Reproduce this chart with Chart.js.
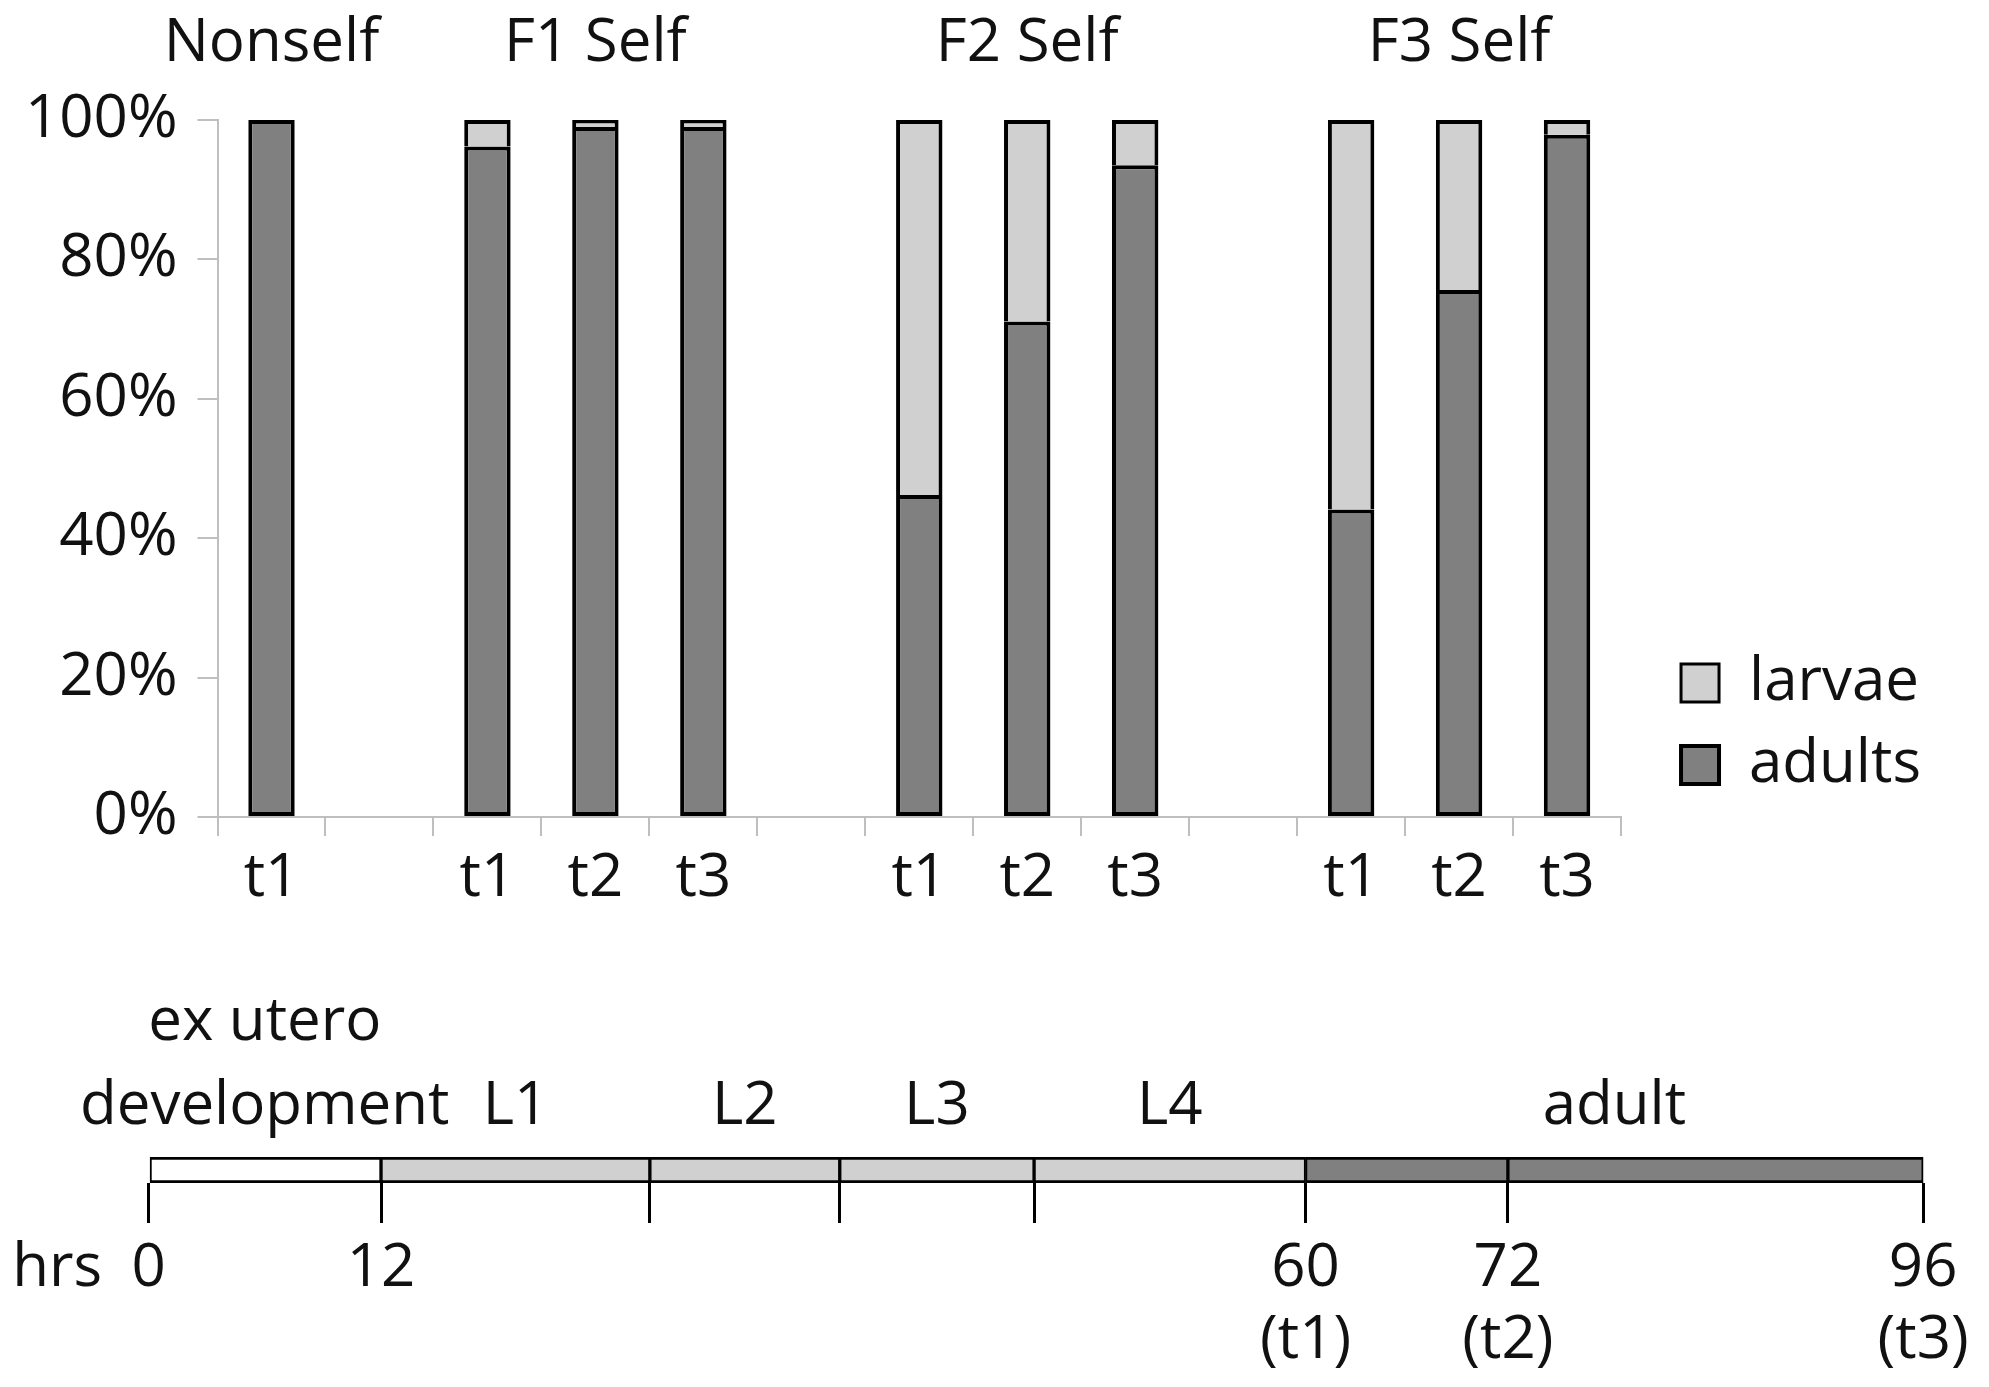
<!DOCTYPE html>
<html>
<head>
<meta charset="utf-8">
<script src="https://cdn.jsdelivr.net/npm/chart.js@4"></script>
<style>
html,body{margin:0;padding:0;background:#fff;width:1989px;height:1387px;overflow:hidden;}
#top{position:absolute;left:0;top:0;width:1989px;height:960px;}
#bottom{position:absolute;left:0;top:960px;width:1989px;height:427px;}
</style>
</head>
<body>
<div id="top"><canvas id="c1"></canvas></div>
<div id="bottom"><canvas id="c2"></canvas></div>
<script>
// ---- Stacked bar chart data ----
const categories  = ['t1','','t1','t2','t3','','t1','t2','t3','','t1','t2','t3'];
const groupTitles = ['Nonself','','','F1 Self','','','','F2 Self','','','','F3 Self',''];
const adults = [100, null, 96.2, 99.0, 99.0, null, 46.2, 71.1, 93.5, null, 44.1, 75.6, 97.9];
const larvae = [0,   null, 3.8,  1.0,  1.0,  null, 53.8, 28.9, 6.5,  null, 55.9, 24.4, 2.1];

// ---- Developmental timeline data (schematic lengths) ----
const stageNames   = ['ex utero development','L1','L2','L3','L4','adult (to t2)','adult (to t3)'];
const stageLengths = [13.1, 15.15, 10.7, 10.95, 15.3, 11.4, 23.4];
const stageLabels  = [['ex utero','development'], 'L1', 'L2', 'L3', 'L4', 'adult'];
const stageLabelSpans = [[0],[1],[2],[3],[4],[5,6]];
const hourLabels      = ['0','12','','','','60','72','96'];
const timepointLabels = ['','','','','','(t1)','(t2)','(t3)'];
const hrsLabel = 'hrs';

Chart.defaults.font.family = "'Open Sans', 'DejaVu Sans', sans-serif";
Chart.defaults.font.size = 60;
Chart.defaults.color = '#111';

// boundaries from cumulative stage lengths
const boundaries = [0];
stageLengths.forEach(v => boundaries.push(+(boundaries[boundaries.length-1] + v).toFixed(3)));
const stageCenters = stageLabelSpans.map(span => (boundaries[span[0]] + boundaries[span[span.length-1]+1]) / 2);

const legendShift = {
  id: 'legendShift',
  afterLayout(chart) {
    const l = chart.legend;
    if (!l) return;
    l.left += 38; l.right += 38;
  }
};

new Chart(document.getElementById('c1'), {
  type: 'bar',
  data: {
    labels: categories,
    datasets: [
      { label: 'adults', data: adults, xAxisID: 'x', yAxisID: 'y',
        backgroundColor: '#808080', borderColor: '#000', borderWidth: 4, borderSkipped: false,
        barPercentage: 0.43, categoryPercentage: 1 },
      { label: 'larvae', data: larvae, xAxisID: 'x', yAxisID: 'y',
        backgroundColor: '#d0d0d0', borderColor: '#000', borderWidth: {top:4, left:4, right:4, bottom:0}, borderSkipped: false,
        barPercentage: 0.43, categoryPercentage: 1 }
    ]
  },
  options: {
    responsive: true, maintainAspectRatio: false, animation: false,
    layout: { padding: { top: 0, left: 5, right: 96, bottom: 38 } },
    plugins: {
      legend: { position: 'right', align: 'end', fullSize: false, reverse: true,
        labels: { boxWidth: 38, boxHeight: 38, padding: 22, font: { size: 60 }, color: '#111' } },
      tooltip: { enabled: false }
    },
    scales: {
      x: { stacked: true, offset: true,
        grid: { offset: true, drawOnChartArea: false, tickLength: 19, color: '#bfbfbf', lineWidth: 2 },
        border: { color: '#bfbfbf', width: 2 },
        ticks: { autoSkip: false, maxRotation: 0, padding: 7, font: { size: 60 }, color: '#111' } },
      xTop: { type: 'category', labels: groupTitles, position: 'top', offset: true,
        grid: { display: false, drawTicks: true, tickLength: 32 }, border: { display: false },
        ticks: { autoSkip: false, maxRotation: 0, padding: 0, font: { size: 60, lineHeight: 1.4667 }, color: '#111' } },
      y: { stacked: true, min: 0, max: 100,
        ticks: { stepSize: 10, callback: v => (v % 20 === 0 ? v + '%' : ''), padding: 20, font: { size: 60 }, color: '#111' },
        grid: { drawOnChartArea: false, tickLength: 20, color: '#bfbfbf', lineWidth: 2 },
        border: { color: '#bfbfbf', width: 2 } }
    }
  },
  plugins: [legendShift]
});

const stageFill = ['#ffffff','#d0d0d0','#d0d0d0','#d0d0d0','#d0d0d0','#808080','#808080'];

new Chart(document.getElementById('c2'), {
  type: 'bar',
  data: {
    labels: ['development'],
    datasets: stageLengths.map((v, i) => ({
      label: stageNames[i], data: [v], xAxisID: 'x', yAxisID: 'y',
      backgroundColor: stageFill[i], borderColor: '#000',
      borderWidth: { top: 3, bottom: 3, left: 2, right: 2 }, borderSkipped: false,
      barPercentage: 1, categoryPercentage: 1
    }))
  },
  options: {
    indexAxis: 'y', responsive: true, maintainAspectRatio: false, animation: false,
    layout: { padding: { top: 13, bottom: 0, left: 0, right: 0 } },
    plugins: { legend: { display: false }, tooltip: { enabled: false } },
    scales: {
      y: { stacked: true, display: false },
      x: { type: 'linear', stacked: true, min: -8.37, max: 103.71, position: 'bottom',
        afterBuildTicks: s => { s.ticks = [{ value: -5.15 }].concat(boundaries.map(v => ({ value: v }))); },
        ticks: { autoSkip: false, maxRotation: 0, padding: 10, font: { size: 60, lineHeight: 1.2 }, color: '#111',
          callback: (v, i) => {
            if (i === 0) return hrsLabel;
            const h = hourLabels[i-1], t = timepointLabels[i-1];
            return t ? [h, t] : h;
          } },
        grid: { drawOnChartArea: false, drawTicks: true, tickLength: 40, lineWidth: 3,
          color: ctx => (ctx.index === 0 ? 'rgba(0,0,0,0)' : '#000') },
        border: { display: false } },
      x2: { type: 'linear', min: -8.37, max: 103.71, position: 'top',
        afterBuildTicks: s => { s.ticks = stageCenters.map(v => ({ value: v })); },
        ticks: { autoSkip: false, maxRotation: 0, padding: 8, font: { size: 60, lineHeight: 1.4 }, color: '#111',
          callback: (v, i) => stageLabels[i] },
        grid: { display: false, drawTicks: false }, border: { display: false } }
    }
  }
});
</script>
</body>
</html>
